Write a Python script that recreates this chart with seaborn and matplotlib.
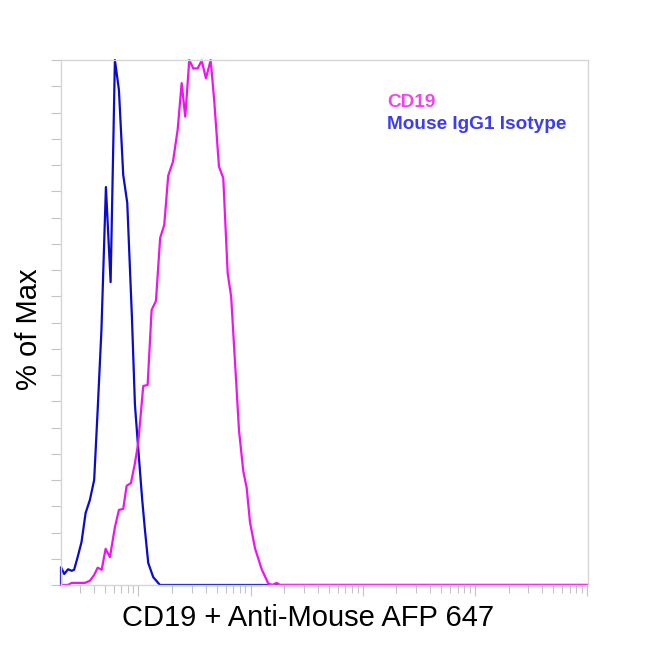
import matplotlib
matplotlib.use("Agg")
import matplotlib.pyplot as plt
import seaborn as sns
import pandas as pd
from matplotlib.ticker import NullFormatter, MultipleLocator

# values (x = fluorescence, y = % of max)
isotype_x = [20.4, 20.4, 21.8, 23.6, 25.4, 26.7, 28.7, 31.1, 33.8, 36.9, 40.3, 43.3,
             46.8, 51.3, 56.5, 61.7, 67.0, 73.2, 79.5, 87.5, 93.1, 99.5, 108.1,
             114.3, 122.3, 135.5, 155.5, 1.02e6]
isotype_y = [0, 3.4, 2.1, 3.0, 2.7, 2.9, 5.3, 8.2, 13.7, 16.2, 20.0, 33.3,
             48.6, 75.8, 57.7, 100, 94.3, 78.1, 72.8, 51.0, 34.3, 26.1, 16.2,
             10.5, 4.2, 1.5, 0, 0]

cd19_x = [20.4, 23.5, 25.4, 33.3, 36.9, 40.3, 43.3, 47.0, 51.0, 55.7, 61.7, 67.0,
          73.2, 78.5, 85.7, 93.1, 99.5, 110.4, 120.8, 131.1, 143.3, 156.2, 169.9,
          184.4, 203.1, 223.7, 242.9, 261.5, 284.0, 308.3, 337.5, 366.3, 400.0,
          440.7, 474.6, 522.5, 570.8, 624.8, 671.3, 715.5, 751.6, 788.0, 860.9,
          923.1, 987.6, 1095, 1256, 1438, 1562, 1709, 1830, 1.02e6]
cd19_y = [0, 0, 0.4, 0.4, 0.8, 1.9, 3.3, 2.9, 6.9, 5.3, 11.0, 14.3,
          14.5, 18.9, 19.4, 23.2, 27.0, 37.9, 38.1, 52.4, 54.1, 66.1, 68.6,
          78.0, 80.6, 86.7, 95.6, 89.2, 100, 98.4, 98.4, 99.9, 96.5,
          100, 92.1, 79.7, 77.5, 59.4, 54.9, 44.8, 37.1, 29.5, 21.7,
          18.5, 12.0, 7.0, 3.0, 0.3, 0, 0.4, 0, 0]

sample_names = ["Mouse IgG1 Isotype", "CD19"]
line_colors = {"Mouse IgG1 Isotype": "#0b0bd0", "CD19": "#f012f0"}
text_colors = {"Mouse IgG1 Isotype": "#3c3cf0", "CD19": "#f244ee"}

df = pd.concat([
    pd.DataFrame({"x": isotype_x, "y": isotype_y, "sample": sample_names[0]}),
    pd.DataFrame({"x": cd19_x, "y": cd19_y, "sample": sample_names[1]}),
], ignore_index=True)

sns.set_theme(style="white")
plt.rcParams["font.family"] = ["Liberation Sans", "DejaVu Sans"]

fig = plt.figure(figsize=(6.5, 6.5), dpi=100)
ax = fig.add_axes([61 / 650, 65 / 650, 527 / 650, 525 / 650])

sns.lineplot(data=df, x="x", y="y", hue="sample", hue_order=sample_names,
             palette=line_colors, estimator=None, sort=False, legend=False,
             linewidth=1.6, ax=ax)
for line in ax.lines:
    line.set_clip_on(False)

ax.set_xscale("log")
ax.set_xlim(20.4, 1.02e6)
ax.set_ylim(0, 100)
ax.xaxis.set_major_formatter(NullFormatter())
ax.xaxis.set_minor_formatter(NullFormatter())
ax.yaxis.set_major_locator(MultipleLocator(5))
ax.yaxis.set_major_formatter(NullFormatter())

tick_color = "#c4c4c4"
ax.tick_params(axis="x", which="major", direction="out", length=8, width=0.8,
               color=tick_color, bottom=True)
ax.tick_params(axis="x", which="minor", direction="out", length=5.8, width=0.8,
               color=tick_color, bottom=True)
ax.tick_params(axis="y", which="major", direction="out", length=7.2, width=0.8,
               color=tick_color, left=True)

for side in ["left", "right", "top", "bottom"]:
    ax.spines[side].set_color("#d6d6d6")
    ax.spines[side].set_linewidth(1.0)

ax.set_xlabel("CD19 + Anti-Mouse AFP 647", fontsize=21, color="black")
ax.set_ylabel("% of Max", fontsize=21, color="black")
ax.xaxis.set_label_coords(0.469, -0.036)
ax.yaxis.set_label_coords(-0.034, 0.488)

ax.text(0.6186, 0.911, "CD19", transform=ax.transAxes, fontsize=13.7,
        fontweight="bold", color=text_colors["CD19"], va="baseline")
ax.text(0.6186, 0.8686, "Mouse IgG1 Isotype", transform=ax.transAxes,
        fontsize=13.7, fontweight="bold", color=text_colors["Mouse IgG1 Isotype"],
        va="baseline")

fig.savefig("out.png", dpi=100)
